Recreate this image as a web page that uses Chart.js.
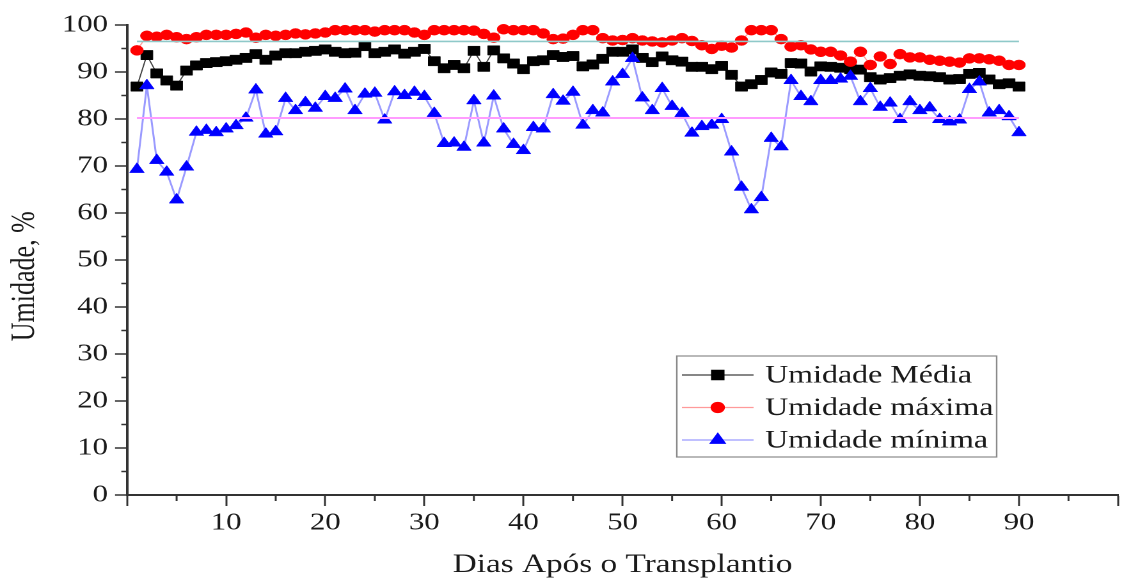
<!DOCTYPE html>
<html>
<head>
<meta charset="utf-8">
<script src="https://cdn.jsdelivr.net/npm/chart.js@4.4.1/dist/chart.umd.min.js"></script>
<style>
  html, body { margin: 0; padding: 0; background: #fff; overflow: hidden; }
  body { width: 1122px; height: 581px; position: relative; }
  /* the figure is wider than tall-set fonts would give, so the whole canvas is stretched sideways */
  #wrap { position: absolute; left: 0; top: 0; width: 881px; height: 581px; transform: scaleX(1.2794); transform-origin: 0 0; }
</style>
</head>
<body>
<div id="wrap"><canvas id="chart"></canvas></div>
<script>
const days = [1, 2, 3, 4, 5, 6, 7, 8, 9, 10, 11, 12, 13, 14, 15, 16, 17, 18, 19, 20,
  21, 22, 23, 24, 25, 26, 27, 28, 29, 30, 31, 32, 33, 34, 35, 36, 37, 38, 39, 40,
  41, 42, 43, 44, 45, 46, 47, 48, 49, 50, 51, 52, 53, 54, 55, 56, 57, 58, 59, 60,
  61, 62, 63, 64, 65, 66, 67, 68, 69, 70, 71, 72, 73, 74, 75, 76, 77, 78, 79, 80,
  81, 82, 83, 84, 85, 86, 87, 88, 89, 90];

const umidadeMedia = [86.9, 93.6, 89.7, 88.2, 87.1, 90.3, 91.4, 91.9, 92.1, 92.3,
  92.6, 93.0, 93.8, 92.6, 93.5, 94.0, 94.0, 94.3, 94.5, 94.8,
  94.3, 94.0, 94.1, 95.5, 94.0, 94.3, 94.8, 93.9, 94.3, 94.9,
  92.3, 90.8, 91.5, 90.8, 94.5, 91.1, 94.6, 92.9, 91.8, 90.6,
  92.3, 92.5, 93.6, 93.2, 93.4, 91.2, 91.6, 92.8, 94.3, 94.3,
  94.8, 93.0, 92.1, 93.3, 92.5, 92.2, 91.1, 91.1, 90.6, 91.3,
  89.4, 86.9, 87.4, 88.3, 89.9, 89.6, 91.9, 91.8, 90.1, 91.2,
  91.1, 90.9, 90.6, 90.5, 88.9, 88.4, 88.7, 89.2, 89.5, 89.2,
  89.1, 88.9, 88.4, 88.5, 89.6, 89.8, 88.4, 87.4, 87.6, 86.9];

const umidadeMaxima = [94.6, 97.7, 97.5, 97.9, 97.4, 97.0, 97.4, 97.9, 97.9, 97.9,
  98.1, 98.4, 97.3, 97.9, 97.7, 97.9, 98.2, 98.0, 98.2, 98.4,
  98.9, 98.9, 98.9, 98.9, 98.6, 98.9, 98.9, 98.9, 98.4, 97.9,
  98.9, 98.9, 98.9, 98.9, 98.8, 98.1, 97.3, 99.1, 98.9, 98.9,
  98.9, 98.2, 97.0, 97.1, 97.9, 98.9, 98.9, 97.2, 96.7, 96.8,
  97.2, 96.7, 96.5, 96.3, 96.7, 97.2, 96.6, 95.7, 94.9, 95.6,
  95.2, 96.7, 98.9, 98.9, 98.9, 97.0, 95.4, 95.7, 94.8, 94.3,
  94.3, 93.5, 92.2, 94.3, 91.5, 93.3, 91.7, 93.8, 93.1, 93.1,
  92.6, 92.4, 92.2, 92.0, 92.9, 92.9, 92.7, 92.4, 91.5, 91.5];

const umidadeMinima = [69.3, 87.1, 71.2, 68.7, 62.8, 69.8, 77.2, 77.6, 77.1, 77.9,
  78.6, 80.2, 86.2, 76.8, 77.3, 84.4, 81.8, 83.5, 82.3, 84.8,
  84.4, 86.4, 81.8, 85.3, 85.5, 79.8, 85.8, 85.0, 85.7, 84.8,
  81.2, 74.8, 74.9, 74.0, 83.9, 74.9, 84.9, 77.9, 74.6, 73.3,
  78.2, 77.9, 85.2, 83.8, 85.7, 78.7, 81.8, 81.3, 87.9, 89.5,
  92.9, 84.5, 81.8, 86.5, 82.7, 81.2, 77.0, 78.4, 78.7, 79.9,
  73.0, 65.5, 60.7, 63.3, 75.9, 74.1, 88.2, 84.8, 83.7, 88.2,
  88.2, 88.5, 89.1, 83.7, 86.5, 82.5, 83.4, 79.9, 83.7, 81.8,
  82.4, 79.9, 79.4, 79.8, 86.3, 87.9, 81.3, 81.8, 80.5, 77.1];

// period averages drawn as flat lines
const refDays = [1, 90];
const mediaMaxima = 96.5;
const mediaMinima = 80.2;

const xTickValues = [0, 10, 20, 30, 40, 50, 60, 70, 80, 90, 100];
const xTickLabels = ['10', '20', '30', '40', '50', '60', '70', '80', '90'];
const xMinorValues = [5, 15, 25, 35, 45, 55, 65, 75, 85, 95];
const yTickValues = [0, 10, 20, 30, 40, 50, 60, 70, 80, 90, 100];
const yMinorValues = [5, 15, 25, 35, 45, 55, 65, 75, 85, 95];

const serif = "'Liberation Serif', 'Times New Roman', serif";
const ink = '#1a1a1a';
const axisColor = '#333';

// short ticks between the labelled ones
const minorTicks = {
  id: 'minorTicks',
  afterDraw(chart) {
    const { ctx, chartArea, scales: { x, y } } = chart;
    ctx.save();
    ctx.strokeStyle = axisColor;
    ctx.lineWidth = 1.5;
    ctx.beginPath();
    xMinorValues.forEach(v => {
      const px = x.getPixelForValue(v);
      ctx.moveTo(px, chartArea.bottom);
      ctx.lineTo(px, chartArea.bottom + 6);
    });
    yMinorValues.forEach(v => {
      const py = y.getPixelForValue(v);
      ctx.moveTo(chartArea.left, py);
      ctx.lineTo(chartArea.left - 4.5, py);
    });
    ctx.stroke();
    ctx.restore();
  }
};

// boxed legend inside the plot, lower right
const legendBox = {
  id: 'legendBox',
  afterDraw(chart) {
    const ctx = chart.ctx;
    const left = 529, top = 356, width = 250, height = 101;
    ctx.save();
    ctx.fillStyle = '#fff';
    ctx.fillRect(left, top, width, height);
    ctx.strokeStyle = '#8a8a8a';
    ctx.lineWidth = 1.2;
    ctx.strokeRect(left, top, width, height);

    const items = chart.data.datasets.filter(ds => ds.inLegend);
    items.forEach((ds, i) => {
      const cy = 375 + i * 32.5;
      ctx.strokeStyle = ds.borderColor;
      ctx.lineWidth = 1.2;
      ctx.beginPath();
      ctx.moveTo(533, cy);
      ctx.lineTo(589, cy);
      ctx.stroke();

      ctx.fillStyle = ds.pointBackgroundColor;
      ctx.strokeStyle = ds.pointBackgroundColor;
      Chart.helpers.drawPoint(ctx, {
        pointStyle: ds.pointStyle, radius: ds.pointRadius, rotation: 0, borderWidth: 0.5
      }, 561, cy);

      ctx.fillStyle = ink;
      ctx.font = '25px ' + serif;
      ctx.textAlign = 'left';
      ctx.textBaseline = 'middle';
      ctx.fillText(ds.label, 598, cy + 1);
    });
    ctx.restore();
  }
};

new Chart(document.getElementById('chart'), {
  type: 'line',
  data: {
    labels: days,
    datasets: [
      {
        label: 'Média das máximas',
        data: refDays.map(d => ({ x: d, y: mediaMaxima })),
        borderColor: '#8fc9c9',
        borderWidth: 1.6,
        pointRadius: 0,
        order: 0
      },
      {
        label: 'Média das mínimas',
        data: refDays.map(d => ({ x: d, y: mediaMinima })),
        borderColor: '#ff9cff',
        borderWidth: 2,
        pointRadius: 0,
        order: 0
      },
      {
        label: 'Umidade Média',
        inLegend: true,
        data: umidadeMedia,
        borderColor: '#404040',
        borderWidth: 1,
        pointStyle: 'rect',
        pointRadius: 6.6,
        pointBackgroundColor: '#000',
        pointBorderColor: '#000',
        pointBorderWidth: 0.5,
        order: 3
      },
      {
        label: 'Umidade máxima',
        inLegend: true,
        data: umidadeMaxima,
        borderColor: '#ff9a9a',
        borderWidth: 1,
        pointStyle: 'circle',
        pointRadius: 5,
        pointBackgroundColor: '#ff0000',
        pointBorderColor: '#ff0000',
        pointBorderWidth: 0.5,
        order: 2
      },
      {
        label: 'Umidade mínima',
        inLegend: true,
        data: umidadeMinima,
        borderColor: '#9a9aff',
        borderWidth: 1.5,
        pointStyle: 'triangle',
        pointRadius: 6.6,
        pointBackgroundColor: '#0000ff',
        pointBorderColor: '#0000ff',
        pointBorderWidth: 0.5,
        order: 1
      }
    ]
  },
  options: {
    responsive: true,
    maintainAspectRatio: false,
    devicePixelRatio: 2,
    animation: false,
    clip: false,
    layout: { padding: { top: 25, right: 0, bottom: 0, left: 0 } },
    elements: { line: { tension: 0 } },
    plugins: {
      legend: { display: false },
      tooltip: { enabled: false }
    },
    scales: {
      x: {
        type: 'linear',
        min: 0,
        max: 100,
        afterBuildTicks: scale => { scale.ticks = xTickValues.map(v => ({ value: v })); },
        afterFit: scale => { scale.height = 86; },
        border: { color: axisColor, width: 2 },
        grid: { drawOnChartArea: false, drawTicks: true, tickLength: 11, tickWidth: 1.5, tickColor: axisColor },
        ticks: {
          autoSkip: false,
          maxRotation: 0,
          padding: 3,
          color: ink,
          font: { family: serif, size: 24 },
          callback: v => xTickLabels.includes(String(v)) ? String(v) : ''
        },
        title: {
          display: true,
          text: 'Dias Após o Transplantio',
          color: ink,
          font: { family: serif, size: 26 },
          padding: { top: 0, bottom: 0 }
        }
      },
      y: {
        type: 'linear',
        min: 0,
        max: 100,
        afterBuildTicks: scale => { scale.ticks = yTickValues.map(v => ({ value: v })); },
        afterFit: scale => { scale.width = 99.3; },
        border: { color: axisColor, width: 2 },
        grid: { drawOnChartArea: false, drawTicks: true, tickLength: 9.4, tickWidth: 1.5, tickColor: axisColor },
        ticks: {
          autoSkip: false,
          padding: 5.5,
          color: ink,
          font: { family: serif, size: 24 },
          callback: v => String(v)
        },
        title: {
          display: true,
          // trailing spaces push the rotated title a little below the axis middle
          text: 'Umidade, %     ',
          color: ink,
          font: { family: serif, size: 26 },
          padding: { top: 3.9, bottom: 0 }
        }
      }
    }
  },
  plugins: [minorTicks, legendBox]
});
</script>
</body>
</html>
